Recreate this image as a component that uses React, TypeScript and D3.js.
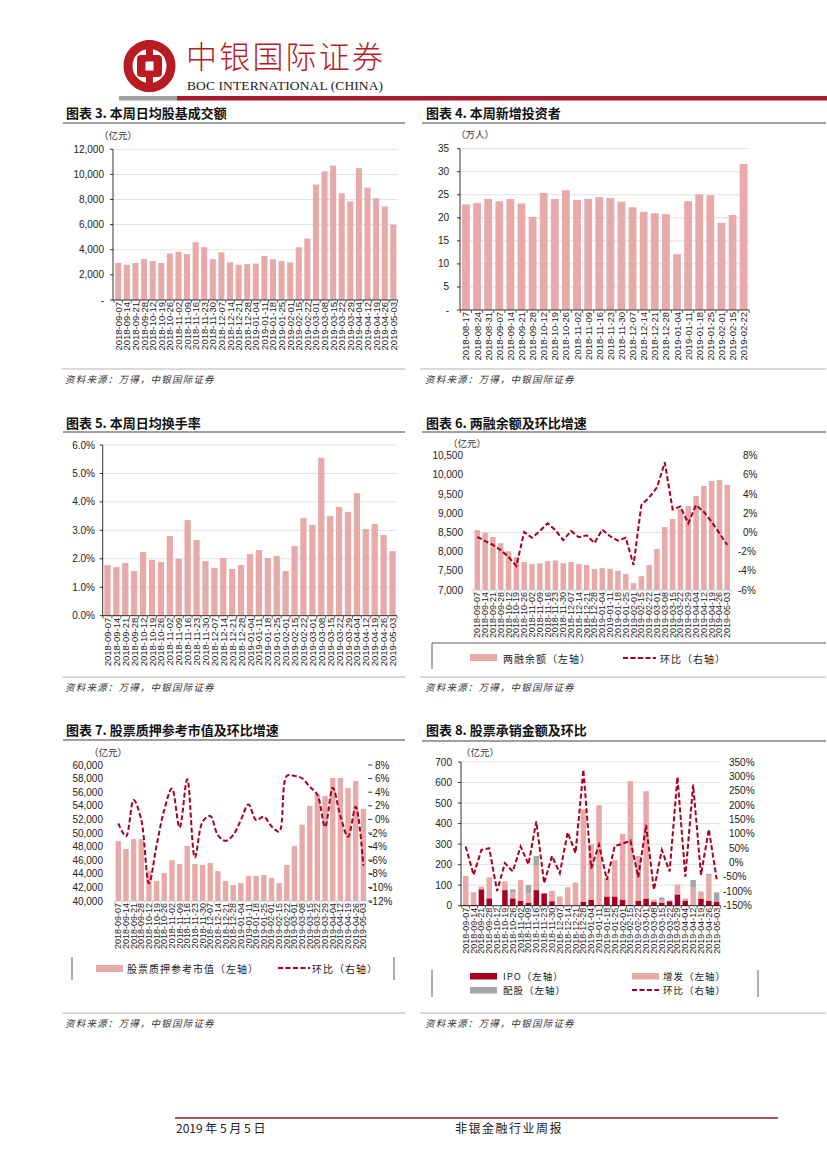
import * as d3 from 'd3';

const PINK = '#E8A9A9';
const DARK = '#A50021';
const GRAY = '#A6A6A6';
const CJK = "'Noto Sans CJK SC', 'Noto Sans', sans-serif";
const NUM = "'Liberation Sans Narrow', 'Liberation Sans', Arial, sans-serif";

// weekly dates used by most panels
const weeks33 = [
  '2018-09-07', '2018-09-14', '2018-09-21', '2018-09-28', '2018-10-12', '2018-10-19',
  '2018-10-26', '2018-11-02', '2018-11-09', '2018-11-16', '2018-11-23', '2018-11-30',
  '2018-12-07', '2018-12-14', '2018-12-21', '2018-12-28', '2019-01-04', '2019-01-11',
  '2019-01-18', '2019-01-25', '2019-02-01', '2019-02-15', '2019-02-22', '2019-03-01',
  '2019-03-08', '2019-03-15', '2019-03-22', '2019-03-29', '2019-04-04', '2019-04-12',
  '2019-04-19', '2019-04-26', '2019-05-03',
];
const weeks26 = [
  '2018-08-17', '2018-08-24', '2018-08-31', '2018-09-07', '2018-09-14', '2018-09-21',
  '2018-09-28', '2018-10-12', '2018-10-19', '2018-10-26', '2018-11-02', '2018-11-09',
  '2018-11-16', '2018-11-23', '2018-11-30', '2018-12-07', '2018-12-14', '2018-12-21',
  '2018-12-28', '2019-01-04', '2019-01-11', '2019-01-18', '2019-01-25', '2019-02-01',
  '2019-02-15', '2019-02-22',
];

// 图表3 日均股基成交额（亿元）
const dailyTurnover = [
  2950, 2800, 2950, 3250, 3100, 2950, 3700, 3850, 3650, 4600, 4200, 3250, 3800, 3000, 2800,
  2850, 2900, 3500, 3250, 3100, 3000, 4200, 4900, 9200, 10250, 10700, 8500, 7850, 10500,
  8950, 8100, 7450, 6000,
];
// 图表4 新增投资者（万人）
const newInvestors = [
  22.9, 23.2, 24.1, 23.6, 24.1, 23.1, 20.2, 25.4, 24.1, 26.0, 23.9, 24.1, 24.5, 24.3, 23.5,
  22.3, 21.3, 21.0, 20.8, 12.1, 23.6, 25.1, 24.9, 18.9, 20.6, 31.7,
];
// 图表5 日均换手率
const turnoverRate = [
  0.0178, 0.0171, 0.0185, 0.0157, 0.0224, 0.0196, 0.0189, 0.028, 0.02, 0.0336, 0.0266,
  0.0192, 0.0168, 0.0203, 0.0164, 0.0178, 0.0217, 0.0231, 0.0203, 0.021, 0.0157, 0.0245,
  0.0343, 0.0319, 0.0555, 0.035, 0.0382, 0.0365, 0.0431, 0.0305, 0.0322, 0.0284, 0.0227,
];
// 图表6 两融余额（亿元）及环比（%）
const marginBalance = [
  8560, 8490, 8380, 8220, 8010, 7860, 7730, 7680, 7700, 7750, 7770, 7700, 7730, 7680, 7650,
  7550, 7570, 7550, 7500, 7420, 7180, 7360, 7650, 8070, 8640, 8850, 9110, 9190, 9450, 9710,
  9840, 9870, 9740,
];
const marginQoQ = [
  -0.45, -0.9, -1.3, -1.85, -2.55, -3.5, 0.05, -0.55, 0.15, 0.95, 0.25, -0.8, 0.15, -0.5,
  -0.3, -1.1, 0.3, -0.4, -0.85, -0.55, -3.4, 2.85, 3.65, 4.7, 7.3, 2.4, 2.7, 0.95, 2.85,
  2.15, 1.1, -0.1, -1.3,
];
// 图表7 股票质押参考市值（亿元）及环比（%）
const pledgeValue = [
  48800, 47650, 49100, 49100, 44400, 42950, 44100, 46000, 45450, 48100, 45450, 45300, 45600,
  44400, 42950, 42350, 42650, 43700, 43700, 43800, 43400, 42650, 45300, 48100, 51200, 54000,
  55700, 55450, 58100, 58100, 56600, 57650, 53550,
];
const pledgeQoQ = [
  -0.6, -2.5, 2.85, -0.1, -9.4, -3.8, 1.4, 4.55, -1.2, 5.9, -5.6, -0.35, 0.5, -2.3, -3.15,
  -2.3, -0.1, 2.2, -0.1, 0.4, -1.0, -1.8, 6.4, 6.4, 6.05, 4.8, 3.6, -1.1, 4.65, 0.5, -2.55,
  1.85, -6.8,
];
// 图表8 股票承销金额（亿元）及环比（%）
const ipoAmt = [
  5, 5, 80, 36, 0, 76, 36, 23, 15, 76, 60, 22, 5, 0, 0, 20, 30, 5, 45, 45, 30, 5, 25, 35, 20,
  15, 22, 55, 25, 0, 35, 25, 18,
];
const seoAmt = [
  140, 60, 13, 102, 0, 43, 28, 102, 45, 119, 0, 51, 40, 90, 112, 450, 270, 485, 90, 177, 320,
  602, 217, 523, 10, 10, 4, 48, 10, 90, 35, 122, 0,
];
const rightsAmt = [
  0, 0, 0, 0, 0, 0, 16, 0, 41, 47, 0, 0, 0, 0, 0, 0, 0, 0, 0, 0, 0, 0, 0, 0, 0, 15, 0, 0, 0,
  35, 0, 8, 47,
];
const underwriteQoQ = [
  56, -43, 44, 50, -99, -2, -31, 56, -6, 143, -72, 23, -37, 105, 33, 323, -20, 62, -60, 58,
  65, 77, -51, 131, -95, 44, -31, 298, -49, 271, -43, 116, -58,
];

const SOURCE = '资料来源：万得，中银国际证券';

type Series = { values: number[]; color: string };
type PanelProps = {
  dates: string[];
  x0: number;
  x1: number;
  yTop: number;
  yBot: number;
  axisX: number;
  left: { domain: [number, number]; step: number; fmt: (v: number) => string; labelX: number };
  right?: { domain: [number, number]; step: number; labelX: number; negX: number; ticks?: boolean };
  stacks: Series[];
  line?: number[];
  smooth?: boolean;
  grid: 'all' | 'zero' | 'none';
  yAxisLine: boolean;
  axisColor: string;
  labelSize: number;
};

const Panel = (p: PanelProps) => {
  const x = d3
    .scaleBand<string>()
    .domain(p.dates)
    .range([p.x0, p.x1])
    .paddingInner(0.3)
    .paddingOuter(0.15);
  const yl = d3.scaleLinear().domain(p.left.domain).range([p.yBot, p.yTop]).clamp(true);
  const leftTicks = d3.range(p.left.domain[0], p.left.domain[1] + p.left.step / 2, p.left.step);
  const yr = p.right
    ? d3.scaleLinear().domain(p.right.domain).range([p.yBot, p.yTop])
    : null;
  const rightTicks = p.right
    ? d3.range(p.right.domain[0], p.right.domain[1] + p.right.step / 2, p.right.step)
    : [];

  const keys = p.stacks.map((_, k) => 's' + k);
  const rows = p.dates.map((d, i) => {
    const r: Record<string, number> = {};
    p.stacks.forEach((s, k) => (r['s' + k] = s.values[i]));
    return r;
  });
  const layers = d3.stack<Record<string, number>>().keys(keys)(rows);
  const cx = (d: string) => (x(d) || 0) + x.bandwidth() / 2;
  const step = x.step();

  const linePath =
    p.line && yr
      ? d3
          .line<number>()
          .x((_, i) => cx(p.dates[i]))
          .y((v) => yr(v))
          .curve(p.smooth ? d3.curveCatmullRom.alpha(0.5) : d3.curveLinear)(p.line)
      : null;

  return (
    <g>
      {p.grid === 'all' &&
        leftTicks.slice(1).map((t) => (
          <line key={'g' + t} x1={p.axisX} x2={p.x1} y1={yl(t)} y2={yl(t)} stroke='#D9D9D9' strokeWidth={0.8} />
        ))}
      {p.grid === 'zero' && yr && (
        <line x1={p.axisX} x2={p.x1} y1={yr(0)} y2={yr(0)} stroke='#D9D9D9' strokeWidth={0.8} />
      )}
      {layers.map((layer, k) =>
        layer.map((seg, i) =>
          seg[1] - seg[0] > 0 ? (
            <rect
              key={k + '-' + i}
              x={x(p.dates[i])}
              width={x.bandwidth()}
              y={yl(seg[1])}
              height={Math.max(0, yl(seg[0]) - yl(seg[1]))}
              fill={p.stacks[k].color}
            />
          ) : null
        )
      )}
      {linePath && (
        <path d={linePath} fill='none' stroke={DARK} strokeWidth={2} strokeDasharray='5,2.5' />
      )}
      {p.yAxisLine && (
        <g>
          <line x1={p.axisX} x2={p.axisX} y1={p.yTop} y2={p.yBot} stroke='#000' strokeWidth={0.8} />
          {leftTicks.map((t) => (
            <line key={'lt' + t} x1={p.axisX - 3} x2={p.axisX} y1={yl(t)} y2={yl(t)} stroke='#000' strokeWidth={0.8} />
          ))}
        </g>
      )}
      <line x1={p.axisX} x2={p.x1} y1={p.yBot} y2={p.yBot} stroke={p.axisColor} strokeWidth={0.8} />
      {p.dates.map((d, i) => (
        <line
          key={'xt' + d}
          x1={p.x0 + i * step}
          x2={p.x0 + i * step}
          y1={p.yBot}
          y2={p.yBot + 3}
          stroke={p.axisColor}
          strokeWidth={0.6}
        />
      ))}
      <line x1={p.x1} x2={p.x1} y1={p.yBot} y2={p.yBot + 3} stroke={p.axisColor} strokeWidth={0.6} />
      {leftTicks.map((t) => (
        <text
          key={'ll' + t}
          x={p.left.labelX}
          y={yl(t)}
          textAnchor='end'
          dominantBaseline='central'
          fontFamily={NUM}
          fontSize={10}
          fill='#222'
        >
          {p.left.fmt(t)}
        </text>
      ))}
      {p.right &&
        yr &&
        rightTicks.map((t) => (
          <g key={'rl' + t}>
            {p.right!.ticks && (
              <line x1={p.x1 + 1} x2={p.x1 + 5} y1={yr(t)} y2={yr(t)} stroke='#000' strokeWidth={0.8} />
            )}
            <text
              x={t < 0 ? p.right!.negX : p.right!.labelX}
              y={yr(t)}
              dominantBaseline='central'
              fontFamily={NUM}
              fontSize={10}
              fill='#222'
            >
              {`${t}%`}
            </text>
          </g>
        ))}
      {p.dates.map((d) => (
        <text
          key={'xl' + d}
          transform={`translate(${cx(d)},${p.yBot + 2}) rotate(-90)`}
          textAnchor='end'
          dominantBaseline='central'
          fontFamily={NUM}
          fontSize={p.labelSize}
          fill='#222'
        >
          {d}
        </text>
      ))}
    </g>
  );
};

const Title = ({ x, y, text, r1, r2, ry }: { x: number; y: number; text: string; r1: number; r2: number; ry: number }) => (
  <g>
    <text x={x} y={y} fontFamily={CJK} fontSize={13} fontWeight={700} fill='#111'>
      {text}
    </text>
    <line x1={r1} x2={r2} y1={ry} y2={ry} stroke='#808080' strokeWidth={1.6} />
  </g>
);

const Unit = ({ x, y, text }: { x: number; y: number; text: string }) => (
  <text x={x} y={y} fontFamily={CJK} fontSize={9.5} fill='#333' dominantBaseline='central'>
    {text}
  </text>
);

const Source = ({ x, y, r1, r2, ry }: { x: number; y: number; r1: number; r2: number; ry: number }) => (
  <g>
    <line x1={r1} x2={r2} y1={ry} y2={ry} stroke='#A0A0A0' strokeWidth={0.8} />
    <text x={x} y={y} fontFamily={CJK} fontSize={9.5} fontStyle='italic' fill='#333' letterSpacing={1.2}>
      {SOURCE}
    </text>
  </g>
);

const LegendText = ({ x, y, text, size = 10 }: { x: number; y: number; text: string; size?: number }) => (
  <text x={x} y={y} fontFamily={CJK} fontSize={size} fill='#222' dominantBaseline='central' letterSpacing={1}>
    {text}
  </text>
);

const comma = d3.format(',');

export default function App() {
  return (
    <svg
      width={827}
      height={1169}
      viewBox='0 0 827 1169'
      style={{ position: 'absolute', left: 0, top: 0, background: '#fff' }}
    >
      <rect width={827} height={1169} fill='#fff' />

      {/* header */}
      <circle cx={149.5} cy={66} r={21.5} fill='none' stroke='#B81C22' strokeWidth={9} />
      <rect x={146} y={40} width={7} height={52} fill='#B81C22' />
      <rect x={137} y={55} width={25} height={22} rx={4} fill='#B81C22' />
      <rect x={145.5} y={61.5} width={8} height={9} fill='#fff' />
      <text x={186} y={68} fontFamily={CJK} fontSize={31} fontWeight={300} fill='#B81C22' textLength={197}>
        中银国际证券
      </text>
      <text x={187} y={90} fontFamily="'Liberation Serif', 'DejaVu Serif', serif" fontSize={13.5} fill='#222' textLength={196}>
        BOC INTERNATIONAL (CHINA)
      </text>
      <rect x={119} y={96} width={58} height={4.5} fill='#A0A0A0' />
      <rect x={177} y={96} width={650} height={4.5} fill='#A6192E' />

      {/* 图表3 */}
      <Title x={66} y={118} text='图表 3. 本周日均股基成交额' r1={63} r2={405} ry={123} />
      <Unit x={99} y={135} text='（亿元）' />
      <Panel
        dates={weeks33}
        x0={114}
        x1={397.6}
        yTop={149.3}
        yBot={300}
        axisX={113}
        left={{ domain: [0, 12000], step: 2000, fmt: (v) => (v === 0 ? '-' : comma(v)), labelX: 104 }}
        stacks={[{ values: dailyTurnover, color: PINK }]}
        grid='all'
        yAxisLine
        axisColor='#000'
        labelSize={9.5}
      />
      <Source x={65} y={383} r1={62} r2={405} ry={369} />

      {/* 图表4 */}
      <Title x={426} y={118} text='图表 4. 本周新增投资者' r1={422} r2={826} ry={123} />
      <Unit x={456} y={134} text='（万人）' />
      <Panel
        dates={weeks26}
        x0={460.4}
        x1={749.2}
        yTop={148.7}
        yBot={310}
        axisX={460}
        left={{ domain: [0, 35], step: 5, fmt: (v) => (v === 0 ? '-' : String(v)), labelX: 449 }}
        stacks={[{ values: newInvestors, color: PINK }]}
        grid='all'
        yAxisLine
        axisColor='#000'
        labelSize={9.5}
      />
      <Source x={425} y={383} r1={420} r2={826} ry={369} />

      {/* 图表5 */}
      <Title x={66} y={428} text='图表 5. 本周日均换手率' r1={63} r2={405} ry={432} />
      <Panel
        dates={weeks33}
        x0={103}
        x1={397}
        yTop={445}
        yBot={615.7}
        axisX={102.7}
        left={{ domain: [0, 0.06], step: 0.01, fmt: d3.format('.1%'), labelX: 95 }}
        stacks={[{ values: turnoverRate, color: PINK }]}
        grid='all'
        yAxisLine
        axisColor='#000'
        labelSize={9.5}
      />
      <Source x={65} y={691} r1={62} r2={405} ry={677} />

      {/* 图表6 */}
      <Title x={426} y={428} text='图表 6. 两融余额及环比增速' r1={422} r2={826} ry={432} />
      <Unit x={448} y={443} text='（亿元）' />
      <Panel
        dates={weeks33}
        x0={473.4}
        x1={731.2}
        yTop={455.7}
        yBot={590}
        axisX={472}
        left={{ domain: [7000, 10500], step: 500, fmt: comma, labelX: 463 }}
        right={{ domain: [-6, 8], step: 2, labelX: 743, negX: 738 }}
        stacks={[{ values: marginBalance, color: PINK }]}
        line={marginQoQ}
        grid='zero'
        yAxisLine={false}
        axisColor='#C0C0C0'
        labelSize={9}
      />
      <line x1={432} x2={826} y1={643} y2={643} stroke='#333' strokeWidth={0.8} />
      <line x1={432} x2={432} y1={643} y2={669} stroke='#333' strokeWidth={0.8} />
      <rect x={470} y={654} width={27} height={7} fill={PINK} />
      <LegendText x={503} y={658} text='两融余额（左轴）' />
      <line x1={623} x2={656} y1={658} y2={658} stroke={DARK} strokeWidth={2} strokeDasharray='5,2.5' />
      <LegendText x={660} y={658} text='环比（右轴）' />
      <Source x={425} y={691} r1={420} r2={826} ry={677} />

      {/* 图表7 */}
      <Title x={66} y={735} text='图表 7. 股票质押参考市值及环比增速' r1={63} r2={405} ry={740} />
      <Unit x={89} y={752} text='（亿元）' />
      <Panel
        dates={weeks33}
        x0={114.5}
        x1={367.2}
        yTop={765}
        yBot={901}
        axisX={114}
        left={{ domain: [40000, 60000], step: 2000, fmt: comma, labelX: 103 }}
        right={{ domain: [-12, 8], step: 2, labelX: 375, negX: 369, ticks: true }}
        stacks={[{ values: pledgeValue, color: PINK }]}
        line={pledgeQoQ}
        smooth
        grid='none'
        yAxisLine={false}
        axisColor='#C0C0C0'
        labelSize={9}
      />
      <line x1={72} x2={72} y1={957} y2={980} stroke='#333' strokeWidth={0.8} />
      <line x1={394} x2={394} y1={957} y2={980} stroke='#333' strokeWidth={0.8} />
      <rect x={96} y={965} width={27} height={7} fill={PINK} />
      <LegendText x={127} y={968} text='股票质押参考市值（左轴）' />
      <line x1={278} x2={310} y1={968} y2={968} stroke={DARK} strokeWidth={2} strokeDasharray='5,2.5' />
      <LegendText x={312} y={968} text='环比（右轴）' />
      <Source x={65} y={1027} r1={62} r2={405} ry={1013} />

      {/* 图表8 */}
      <Title x={426} y={735} text='图表 8. 股票承销金额及环比' r1={422} r2={826} ry={741} />
      <Unit x={461} y={752} text='（亿元）' />
      <Panel
        dates={weeks33}
        x0={461.8}
        x1={720.6}
        yTop={762}
        yBot={905.7}
        axisX={461}
        left={{ domain: [0, 700], step: 100, fmt: String, labelX: 452 }}
        right={{ domain: [-150, 350], step: 50, labelX: 729, negX: 723 }}
        stacks={[
          { values: ipoAmt, color: DARK },
          { values: seoAmt, color: PINK },
          { values: rightsAmt, color: GRAY },
        ]}
        line={underwriteQoQ}
        grid='all'
        yAxisLine
        axisColor='#000'
        labelSize={9}
      />
      <line x1={432} x2={432} y1={970} y2={997} stroke='#333' strokeWidth={0.8} />
      <line x1={758} x2={758} y1={970} y2={997} stroke='#333' strokeWidth={0.8} />
      <rect x={470} y={973} width={27} height={6.5} fill={DARK} />
      <LegendText x={503} y={976} text='IPO（左轴）' size={9.5} />
      <rect x={632} y={973} width={27} height={6.5} fill={PINK} />
      <LegendText x={663} y={976} text='增发（左轴）' size={9.5} />
      <rect x={470} y={987} width={27} height={6.5} fill={GRAY} />
      <LegendText x={503} y={990} text='配股（左轴）' size={9.5} />
      <line x1={632} x2={659} y1={990} y2={990} stroke={DARK} strokeWidth={2} strokeDasharray='5,2.5' />
      <LegendText x={663} y={990} text='环比（右轴）' size={9.5} />
      <Source x={425} y={1027} r1={420} r2={826} ry={1013} />

      {/* footer */}
      <line x1={175} x2={778} y1={1118} y2={1118} stroke='#8B1A2B' strokeWidth={1.5} />
      <text x={176} y={1133} fontFamily={CJK} fontSize={12} fill='#222'>
        2019 年 5 月 5 日
      </text>
      <text x={455} y={1133} fontFamily={CJK} fontSize={12} fill='#222' letterSpacing={1.5}>
        非银金融行业周报
      </text>
    </svg>
  );
}
